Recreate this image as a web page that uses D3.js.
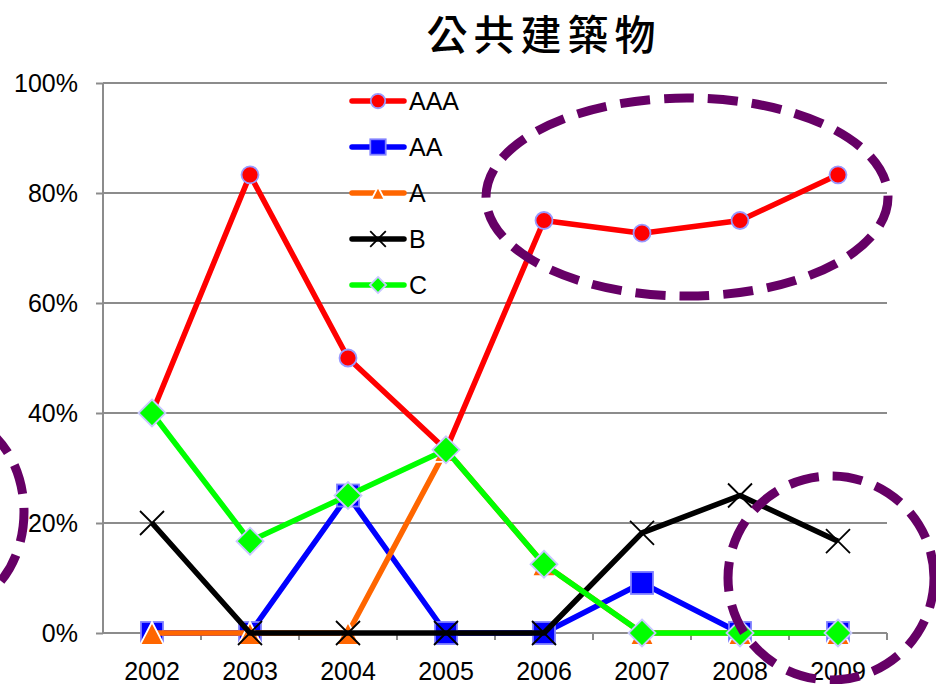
<!DOCTYPE html>
<html>
<head>
<meta charset="utf-8">
<script src="https://cdn.jsdelivr.net/npm/d3@7"></script>
<style>
  html, body { margin: 0; padding: 0; background: #fff; }
  svg { display: block; }
</style>
</head>
<body>
<svg id="chart" width="936" height="684"></svg>
<script>
// Share of ratings per year for public buildings
const years = ["2002", "2003", "2004", "2005", "2006", "2007", "2008", "2009"];
const seriesNames = ["AAA", "AA", "A", "B", "C"];
const aaa = [0.40, 0.833, 0.50, 0.333, 0.75, 0.727, 0.75, 0.833];
const aa  = [0, 0, 0.25, 0, 0, 0.091, 0, 0];
const a   = [0, 0, 0, 0.333, 0.125, 0, 0, 0];
const b   = [0.20, 0, 0, 0, 0, 0.182, 0.25, 0.167];
const c   = [0.40, 0.167, 0.25, 0.333, 0.125, 0, 0, 0];
const yTicks = [0, 0.2, 0.4, 0.6, 0.8, 1.0];
const titleText = "公共建築物";

const seriesValues = [aaa, aa, a, b, c];
const colors = ["#ff0000", "#0000ff", "#ff6600", "#000000", "#00ff00"];
const shapes = ["circle", "square", "triangle", "cross", "diamond"];

const svg = d3.select("#chart");
const plotLeft = 103, plotRight = 887, plotTop = 83, plotBottom = 633;
const labelFont = "'Liberation Sans', Arial, sans-serif";

const x = d3.scaleBand().domain(years).range([plotLeft, plotRight]);
const y = d3.scaleLinear().domain([0, 1]).range([plotBottom, plotTop]);

// Title
svg.append("text")
  .attr("x", 544).attr("y", 50)
  .attr("text-anchor", "middle")
  .attr("font-family", "'Noto Sans CJK TC', 'Noto Sans CJK SC', sans-serif")
  .attr("font-size", 41)
  .attr("font-weight", 500)
  .attr("letter-spacing", 6)
  .text(titleText);

// Gridlines
svg.append("g").selectAll("line")
  .data(yTicks.filter(d => d > 0))
  .join("line")
  .attr("x1", plotLeft).attr("x2", plotRight)
  .attr("y1", d => y(d)).attr("y2", d => y(d))
  .attr("stroke", "#8c8c8c").attr("stroke-width", 2);

// Y axis
const yAxis = svg.append("g")
  .attr("transform", `translate(${plotLeft},0)`)
  .call(d3.axisLeft(y).tickValues(yTicks).tickFormat(d3.format(".0%")).tickSize(7).tickPadding(18));
yAxis.select(".domain").attr("stroke", "#8c8c8c").attr("stroke-width", 2).attr("d", `M0,${plotTop}V${plotBottom}`);
yAxis.selectAll(".tick line").attr("stroke", "#8c8c8c").attr("stroke-width", 2);
yAxis.selectAll(".tick text")
  .attr("font-family", labelFont)
  .attr("font-size", 25).attr("fill", "#000").attr("dy", "0.35em");

// X axis
const xAxis = svg.append("g")
  .attr("transform", `translate(0,${plotBottom})`)
  .call(d3.axisBottom(x).tickSize(0).tickPadding(29));
xAxis.select(".domain").attr("stroke", "#8c8c8c").attr("stroke-width", 2).attr("d", `M${plotLeft},0H${plotRight}`);
xAxis.selectAll(".tick text")
  .attr("font-family", labelFont)
  .attr("font-size", 25).attr("fill", "#000");
// Category boundary ticks
xAxis.append("g").selectAll("line")
  .data(years)
  .join("line")
  .attr("x1", d => x(d) + x.step())
  .attr("x2", d => x(d) + x.step())
  .attr("y1", 0).attr("y2", 7)
  .attr("stroke", "#8c8c8c").attr("stroke-width", 2);

const cx = d => x(d) + x.bandwidth() / 2;

function drawMarker(g, shape, color, px, py, scale) {
  const s = scale || 1;
  if (shape === "circle") {
    g.append("circle").attr("cx", px).attr("cy", py).attr("r", 8.5 * s)
      .attr("fill", color).attr("stroke", "#9999ff").attr("stroke-width", 1.8);
  } else if (shape === "square") {
    g.append("rect").attr("x", px - 11 * s).attr("y", py - 11 * s)
      .attr("width", 22 * s).attr("height", 22 * s)
      .attr("fill", color).attr("stroke", "#8080ff").attr("stroke-width", 1.8);
  } else if (shape === "triangle") {
    const w = 12 * s;
    g.append("path")
      .attr("d", `M${px},${py - 11 * s}L${px + w},${py + 12 * s}L${px - w},${py + 12 * s}Z`)
      .attr("fill", color).attr("stroke", "#ffffff").attr("stroke-width", 1.8);
  } else if (shape === "cross") {
    const h = 12 * s;
    g.append("path")
      .attr("d", `M${px - h},${py - h}L${px + h},${py + h}M${px + h},${py - h}L${px - h},${py + h}`)
      .attr("stroke", color).attr("stroke-width", 1.8).attr("fill", "none");
  } else if (shape === "diamond") {
    const h = 13.5 * s;
    g.append("path")
      .attr("d", `M${px},${py - h}L${px + h},${py}L${px},${py + h}L${px - h},${py}Z`)
      .attr("fill", color).attr("stroke", "#c8c8ff").attr("stroke-width", 1.8);
  }
}

const line = d3.line().x((d, i) => cx(years[i])).y(d => y(d));

// Series lines and markers
seriesValues.forEach((vals, si) => {
  const g = svg.append("g");
  g.append("path")
    .datum(vals)
    .attr("d", line)
    .attr("fill", "none")
    .attr("stroke", colors[si])
    .attr("stroke-width", 5.5)
    .attr("stroke-linejoin", "round");
  vals.forEach((v, i) => drawMarker(g, shapes[si], colors[si], cx(years[i]), y(v)));
});

// Legend
const legend = svg.append("g");
const legendScale = [0.85, 0.7, 0.55, 0.65, 0.6];
seriesNames.forEach((name, i) => {
  const ly = 101 + i * 46;
  legend.append("line")
    .attr("x1", 352).attr("x2", 404).attr("y1", ly).attr("y2", ly)
    .attr("stroke", colors[i]).attr("stroke-width", 5.5).attr("stroke-linecap", "round");
  drawMarker(legend, shapes[i], colors[i], 378, ly, legendScale[i]);
  legend.append("text")
    .attr("x", 409).attr("y", ly).attr("dy", "0.35em")
    .attr("font-family", labelFont)
    .attr("font-size", 25).attr("fill", "#000")
    .text(name);
});

// Highlight ellipses
const highlights = svg.append("g")
  .attr("fill", "none")
  .attr("stroke", "#660066")
  .attr("stroke-width", 9)
  .attr("stroke-dasharray", "30,14");
highlights.append("ellipse").attr("cx", 687).attr("cy", 197).attr("rx", 201).attr("ry", 99);
highlights.append("ellipse").attr("cx", 831).attr("cy", 578).attr("rx", 103).attr("ry", 102);
highlights.append("ellipse").attr("cx", -50).attr("cy", 512).attr("rx", 74).attr("ry", 95);
</script>
</body>
</html>
